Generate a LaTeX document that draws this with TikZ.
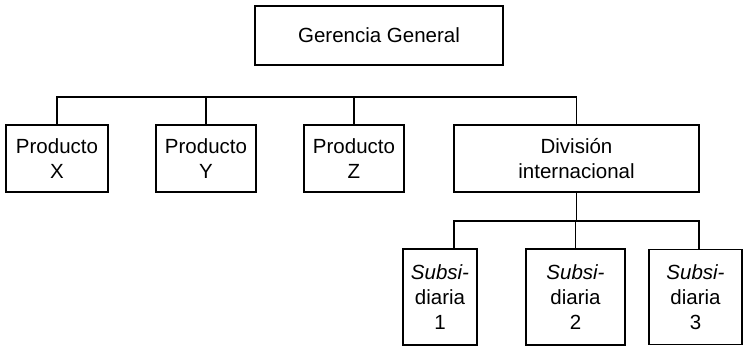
\documentclass[tikz,border=0pt]{standalone}
\usepackage{fontspec}
\setmainfont{Liberation Sans}
\begin{document}
\begin{tikzpicture}[x=1pt, y=-1pt,
  unit/.style={draw, line width=1.1pt, inner sep=0pt, outer sep=0pt,
    align=center, font=\fontsize{20.5}{25}\selectfont},
  link/.style={line width=1.1pt}]
  \useasboundingbox (0,0) rectangle (743,347);

  % top level
  \node[unit, minimum width=248pt, minimum height=59pt] (top) at (379,35.5) {Gerencia General};

  % second level
  \node[unit, minimum width=102pt, minimum height=67pt] (px) at (57,158.5) {Producto\\X};
  \node[unit, minimum width=100pt, minimum height=67pt] (py) at (206,158.5) {Producto\\Y};
  \node[unit, minimum width=100pt, minimum height=67pt] (pz) at (354,158.5) {Producto\\Z};
  \node[unit, minimum width=245pt, minimum height=67pt] (div) at (576.5,158.5) {División\\internacional};

  % subsidiaries
  \node[unit, minimum width=74pt, minimum height=96pt] (s1) at (440,297) {\textit{Subsi-}\\diaria\\1};
  \node[unit, minimum width=99pt, minimum height=96pt] (s2) at (575.5,297) {\textit{Subsi-}\\diaria\\2};
  \node[unit, minimum width=93pt, minimum height=95pt] (s3) at (695.5,297) {\textit{Subsi-}\\diaria\\3};

  % bus lines
  \coordinate (bus) at (0,97);
  \coordinate (sbus) at (0,221);
  \coordinate (d1) at (454,249);
  \coordinate (d3) at (699,249);

  \draw[link] (px.north) |- (bus -| div.north) -- (div.north);
  \draw[link] (py.north) -- (py.north |- bus);
  \draw[link] (pz.north) -- (pz.north |- bus);

  \draw[link] (div.south) -- (div.south |- sbus);
  \draw[link] (d1) |- (sbus -| d3) -- (d3);
  \draw[link] (s2.north) -- (s2.north |- sbus);
\end{tikzpicture}
\end{document}
